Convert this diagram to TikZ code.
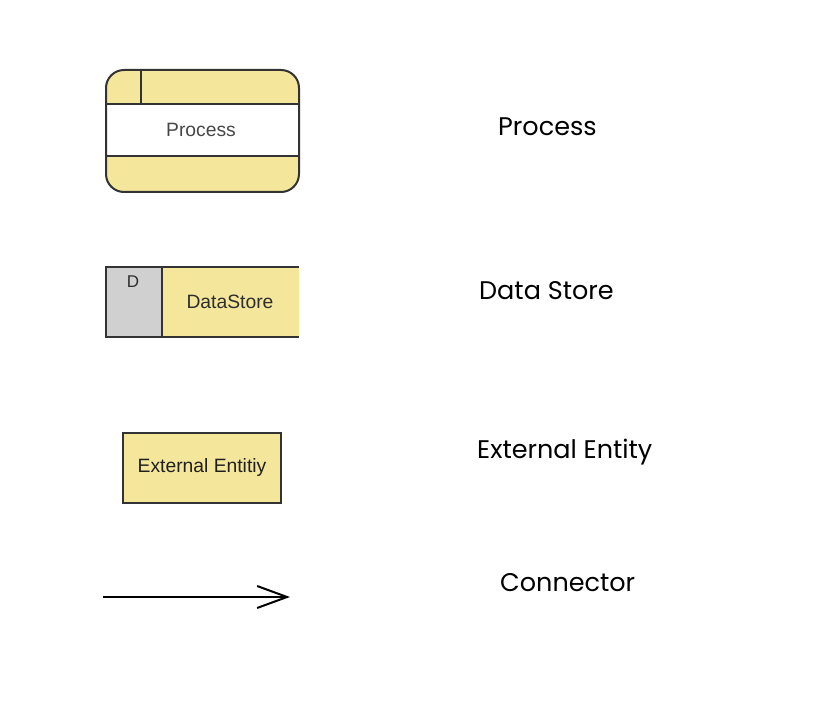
\documentclass[tikz,border=0pt]{standalone}
\usepackage{fontspec}
\setmainfont{Poppins}
\newfontfamily\boxfont{Liberation Sans}
\usetikzlibrary{arrows.meta}
\definecolor{dfdyellow}{HTML}{F4E79C}
\definecolor{dfdgray}{HTML}{D0D0D0}
\definecolor{dfdline}{HTML}{333333}
\definecolor{boxtext}{HTML}{2E2E2E}
\tikzset{
  shapeline/.style={draw=dfdline, line width=2pt},
  boxlabel/.style={font=\boxfont\fontsize{19.3}{21}\selectfont, text=boxtext, inner sep=0pt},
  legendlabel/.style={font=\fontsize{25.5}{28}\selectfont, text=black, anchor=base west, inner sep=0pt},
}
\begin{document}
\begin{tikzpicture}[x=1pt,y=-1pt]
\useasboundingbox (0,0) rectangle (814,708);
% Process
\fill[dfdyellow, rounded corners=18pt] (106,70) rectangle (299,192);
\fill[white] (107,104) rectangle (298,156);
\draw[shapeline] (106,104) -- (299,104);
\draw[shapeline] (106,156) -- (299,156);
\draw[shapeline] (141,70) -- (141,104);
\draw[shapeline, rounded corners=18pt] (106,70) rectangle (299,192);
\node[boxlabel, text=black!72] (proc) at (201,130) {Process};
% Data store
\fill[dfdgray] (106,267) rectangle (162,337);
\fill[dfdyellow] (162,267) rectangle (299,337);
\draw[shapeline] (299,267) -- (106,267) -- (106,337) -- (299,337);
\draw[shapeline] (162,267) -- (162,337);
\node[boxlabel, font=\boxfont\fontsize{17}{19}\selectfont] (dlabel) at (133,282) {D};
\node[boxlabel] (store) at (230,302) {DataStore};
% External entity
\node[shapeline, fill=dfdyellow, minimum width=158pt, minimum height=70pt, boxlabel, draw=dfdline, text=black!88] (ext) at (202,468) {External Entitiy};
% Connector
\coordinate (ca) at (103,597);
\coordinate (cb) at (290,597);
\draw[line width=2pt, -{Straight Barb[length=30pt, width=22pt, line width=2pt]}] (ca) -- (cb);
% Legend labels
\node[legendlabel] (l1) at (498,136) {Process};
\node[legendlabel] (l2) at (479,300) {Data Store};
\node[legendlabel] (l3) at (477,458) {External Entity};
\node[legendlabel] (l4) at (500,591) {Connector};
\end{tikzpicture}
\end{document}
